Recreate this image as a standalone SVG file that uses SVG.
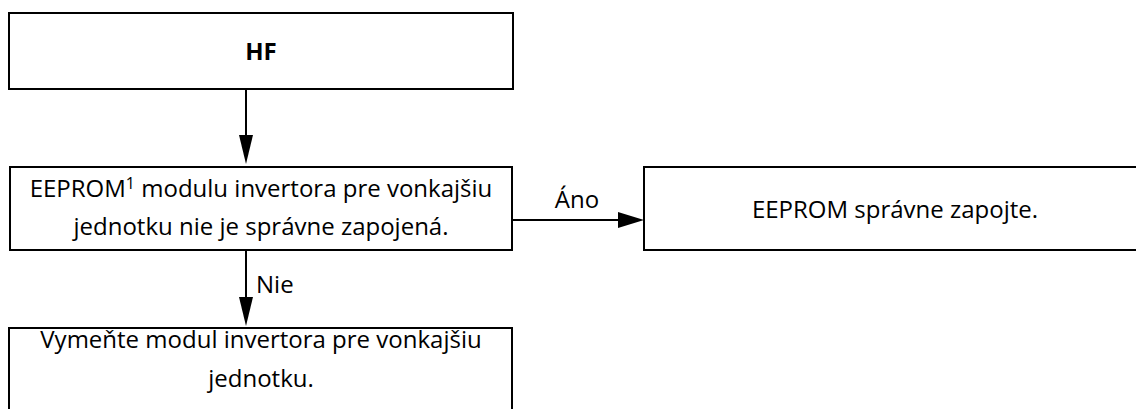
<svg xmlns="http://www.w3.org/2000/svg" width="1136" height="409" viewBox="0 0 1136 409">
<defs>
<style>
.box{fill:#fff;stroke:#000;stroke-width:2}
.ln{stroke:#000;stroke-width:2;fill:none}
.hd{fill:#000}
text{font-family:"Open Sans","Noto Sans",sans-serif;font-size:24px;fill:#000}
.c{text-anchor:middle}
.b{font-weight:bold}
</style>
</defs>
<rect width="1136" height="409" fill="#fff"/>
<g id="n1">
<rect class="box" x="9" y="13" width="504" height="76"/>
<text class="c b" x="261" y="60">HF</text>
</g>
<g id="n2">
<rect class="box" x="10" y="167" width="502" height="83"/>
<text class="c" x="261" y="197">EEPROM<tspan font-size="16" dy="-8">1</tspan><tspan dy="8"> modulu invertora pre vonkajšiu</tspan></text>
<text class="c" x="261" y="235">jednotku nie je správne zapojená.</text>
</g>
<g id="n3">
<rect class="box" x="644" y="167" width="500" height="83"/>
<text class="c" x="895" y="218">EEPROM správne zapojte.</text>
</g>
<g id="n4">
<rect class="box" x="9" y="328" width="503" height="100"/>
<text class="c" x="261" y="348">Vymeňte modul invertora pre vonkajšiu</text>
<text class="c" x="261" y="387">jednotku.</text>
</g>
<g id="connectors">
<line class="ln" x1="246" y1="89" x2="246" y2="137"/>
<polygon class="hd" points="239,135 253,135 246,164"/>
<line class="ln" x1="513" y1="220" x2="620" y2="220"/>
<polygon class="hd" points="618,212 618,228 644,220"/>
<text class="c" x="577" y="208">Áno</text>
<line class="ln" x1="246" y1="250" x2="246" y2="299"/>
<polygon class="hd" points="239,297 253,297 246,326"/>
<text x="256" y="293">Nie</text>
</g>
</svg>
